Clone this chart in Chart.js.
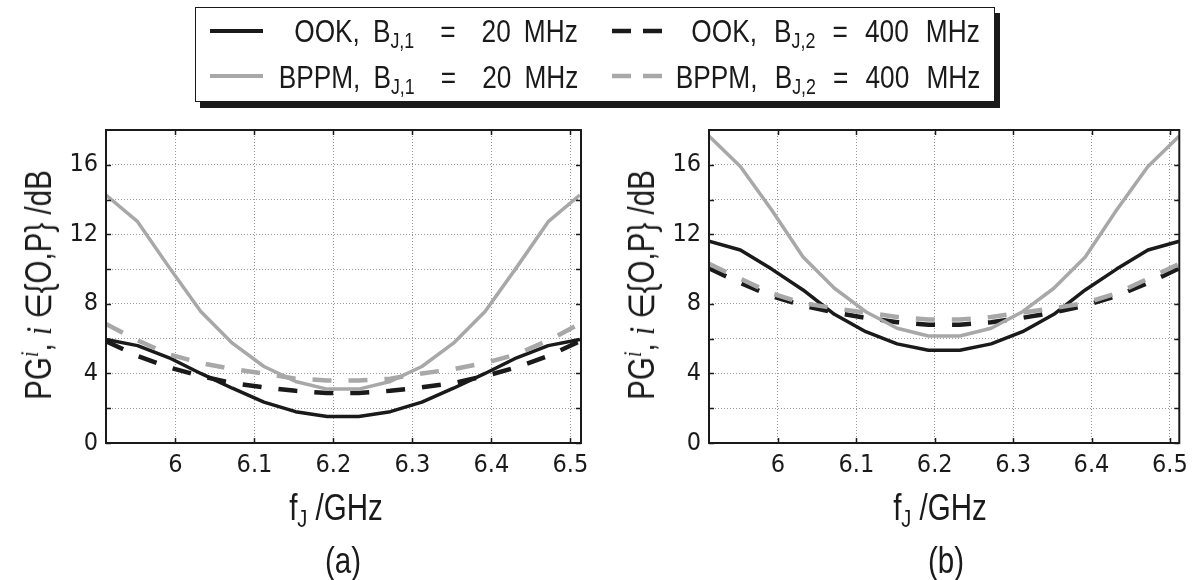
<!DOCTYPE html>
<html>
<head>
<meta charset="utf-8">
<script src="https://cdn.jsdelivr.net/npm/chart.js@4.4.1/dist/chart.umd.min.js"></script>
<style>
html,body{margin:0;padding:0;background:#fff;}
body{width:1195px;height:580px;position:relative;overflow:hidden;
  font-family:'Liberation Sans',Arial,sans-serif;color:#1a1a1a;}
canvas{position:absolute;}
.t{position:absolute;white-space:pre;line-height:1;}
.t sub{font-size:0.68em;vertical-align:-0.27em;line-height:0;}
.t sup{font-size:0.68em;vertical-align:0.55em;line-height:0;}
.mi{font-family:'Liberation Serif','DejaVu Serif',serif;font-style:italic;}
#legbox{position:absolute;left:195px;top:7px;width:800px;height:95px;box-sizing:border-box;
  border:1.5px solid #1a1a1a;box-shadow:5px 6px 0 #1a1a1a;background:#fff;}
.leg{font-size:32px;text-align:right;transform:scaleX(0.82);transform-origin:100% 50%;}
.c1{right:617px;word-spacing:7px;}
.c2{right:215px;word-spacing:12px;}
.r1{top:15px;}
.r2{top:61px;}
.ylab{font-size:36px;transform:translate(-50%,-50%) rotate(-90deg) scaleX(0.82);}
.xlab{font-size:36px;transform:translateX(-50%) scaleX(0.82);}
svg.ls{position:absolute;overflow:visible;}
</style>
</head>
<body>
<canvas id="cA" width="600" height="400" style="left:0;top:100px"></canvas>
<canvas id="cB" width="592" height="400" style="left:603px;top:100px"></canvas>

<div id="legbox"></div>
<svg class="ls" width="1195" height="110" style="left:0;top:0">
  <line x1="210" y1="31" x2="263" y2="31" stroke="#1a1a1a" stroke-width="4"/>
  <line x1="210" y1="76" x2="263" y2="76" stroke="#a8a8a8" stroke-width="4"/>
  <line x1="612" y1="31" x2="662" y2="31" stroke="#1a1a1a" stroke-width="4.5" stroke-dasharray="19,12"/>
  <line x1="612" y1="76" x2="662" y2="76" stroke="#a8a8a8" stroke-width="4.5" stroke-dasharray="19,12"/>
</svg>
<div id="legtext"></div>

<div class="t ylab" style="left:39px;top:285px">PG<sup><span class="mi">i</span></sup>, <span class="mi">i</span> ∈{O,P} /dB</div>
<div class="t ylab" style="left:642px;top:285px">PG<sup><span class="mi">i</span></sup>, <span class="mi">i</span> ∈{O,P} /dB</div>
<div class="t xlab" style="left:336px;top:490px">f<sub>J</sub> /GHz</div>
<div class="t xlab" style="left:940px;top:490px">f<sub>J</sub> /GHz</div>
<div class="t xlab" style="left:343px;top:543px">(a)</div>
<div class="t xlab" style="left:946px;top:543px">(b)</div>

<script>
// ---------- data ----------
const freqGHz = [5.912, 5.952, 5.992, 6.032, 6.072, 6.112, 6.152, 6.192, 6.232, 6.272, 6.312, 6.352, 6.392, 6.432, 6.472, 6.512];

// panel (a)
const ookA_20MHz   = [5.95, 5.60, 4.90, 4.00, 3.15, 2.35, 1.80, 1.52, 1.52, 1.80, 2.35, 3.15, 4.00, 4.90, 5.60, 5.95];
const ookA_400MHz  = [5.85, 5.00, 4.35, 3.85, 3.45, 3.20, 3.00, 2.87, 2.87, 3.00, 3.20, 3.45, 3.85, 4.35, 5.00, 5.85];
const bppmA_20MHz  = [14.26, 12.73, 10.10, 7.56, 5.74, 4.40, 3.54, 3.10, 3.10, 3.54, 4.40, 5.74, 7.56, 10.10, 12.73, 14.26];
const bppmA_400MHz = [6.85, 5.90, 5.10, 4.60, 4.25, 4.00, 3.70, 3.60, 3.60, 3.70, 4.00, 4.25, 4.60, 5.10, 5.90, 6.85];

// panel (b)
const ookB_20MHz   = [11.60, 11.10, 10.00, 8.80, 7.40, 6.40, 5.70, 5.33, 5.33, 5.70, 6.40, 7.40, 8.80, 10.00, 11.10, 11.60];
const ookB_400MHz  = [10.05, 9.20, 8.45, 7.90, 7.50, 7.20, 6.95, 6.80, 6.80, 6.95, 7.20, 7.50, 7.90, 8.45, 9.20, 10.05];
const bppmB_20MHz  = [17.65, 15.90, 13.40, 10.70, 8.90, 7.55, 6.60, 6.15, 6.15, 6.60, 7.55, 8.90, 10.70, 13.40, 15.90, 17.65];
const bppmB_400MHz = [10.30, 9.45, 8.60, 8.05, 7.75, 7.50, 7.25, 7.10, 7.10, 7.25, 7.50, 7.75, 8.05, 8.60, 9.45, 10.30];

const xTickValues = [6.0, 6.1, 6.2, 6.3, 6.4, 6.5];
const xTickLabels = ['6', '6.1', '6.2', '6.3', '6.4', '6.5'];
const yTickValues = [0, 2, 4, 6, 8, 10, 12, 14, 16];
const yTickLabels = ['0', '', '4', '', '8', '', '12', '', '16'];

const legendMod = ['OOK', 'OOK', 'BPPM', 'BPPM'];
const legendSub = ['J,1', 'J,2', 'J,1', 'J,2'];
const legendBW  = ['20 MHz', '400 MHz', '20 MHz', '400 MHz'];

// ---------- legend text ----------
(function(){
  const cls = ['c1 r1', 'c2 r1', 'c1 r2', 'c2 r2'];
  const eq  = ['  =  ', ' = ', '  =  ', ' = '];
  const holder = document.getElementById('legtext');
  legendMod.forEach((m, i) => {
    const d = document.createElement('div');
    d.className = 't leg ' + cls[i];
    d.innerHTML = m + ', B<sub>' + legendSub[i] + '</sub>' + eq[i] + legendBW[i];
    holder.appendChild(d);
  });
})();

// ---------- chart ----------
const FONT = "'DejaVu Sans Condensed','Liberation Sans',sans-serif";
const BLACK = '#1a1a1a', GREY = '#a8a8a8';

const frame = {
  id: 'frame',
  afterDatasetsDraw(chart) {
    const {ctx, chartArea: a, scales: {x, y}} = chart;
    ctx.save();
    ctx.strokeStyle = BLACK;
    ctx.lineWidth = 1.5;
    ctx.beginPath();
    x.ticks.forEach(t => {
      const p = Math.round(x.getPixelForValue(t.value)) + 0.5;
      ctx.moveTo(p, a.bottom); ctx.lineTo(p, a.bottom - 5);
      ctx.moveTo(p, a.top); ctx.lineTo(p, a.top + 5);
    });
    y.ticks.forEach(t => {
      const p = Math.round(y.getPixelForValue(t.value)) + 0.5;
      ctx.moveTo(a.left, p); ctx.lineTo(a.left + 5, p);
      ctx.moveTo(a.right, p); ctx.lineTo(a.right - 5, p);
    });
    ctx.stroke();
    ctx.lineWidth = 2;
    ctx.strokeRect(a.left, a.top, a.right - a.left, a.bottom - a.top);
    ctx.restore();
  }
};

function series(arr) { return freqGHz.map((f, i) => ({x: f, y: arr[i]})); }

function makeChart(id, sets, xMax, padRight) {
  const ds = [
    {data: series(sets[0]), borderColor: BLACK, borderWidth: 3.5, borderDash: [], order: 3},
    {data: series(sets[1]), borderColor: BLACK, borderWidth: 4.5, borderDash: [19, 17], order: 2},
    {data: series(sets[2]), borderColor: GREY, borderWidth: 3.5, borderDash: [], order: 1},
    {data: series(sets[3]), borderColor: GREY, borderWidth: 4.5, borderDash: [19, 17], order: 0}
  ].map(d => Object.assign(d, {pointRadius: 0, tension: 0, fill: false, borderCapStyle: 'butt', borderJoinStyle: 'round'}));

  return new Chart(document.getElementById(id), {
    type: 'line',
    data: {datasets: ds},
    options: {
      responsive: false,
      animation: false,
      events: [],
      layout: {padding: {top: 30, right: padRight, left: 0, bottom: 0}},
      plugins: {legend: {display: false}, tooltip: {enabled: false}, title: {display: false}},
      scales: {
        x: {
          type: 'linear', min: 5.912, max: xMax,
          afterBuildTicks: s => { s.ticks = xTickValues.map(v => ({value: v})); },
          afterFit: s => { s.height = 57; },
          ticks: {autoSkip: false, maxRotation: 0, padding: 7, color: BLACK,
                  font: {family: FONT, size: 25},
                  callback: (v, i) => xTickLabels[i]},
          grid: {color: 'rgba(0,0,0,0.4)', lineWidth: 1, drawTicks: false},
          border: {display: false, dash: [1, 2]}
        },
        y: {
          type: 'linear', min: 0, max: 18,
          afterBuildTicks: s => { s.ticks = yTickValues.map(v => ({value: v})); },
          afterFit: s => { s.width = 106; },
          ticks: {autoSkip: false, padding: 8, color: BLACK,
                  font: {family: FONT, size: 25},
                  callback: (v, i) => yTickLabels[i]},
          grid: {color: 'rgba(0,0,0,0.4)', lineWidth: 1, drawTicks: false},
          border: {display: false, dash: [1, 2]}
        }
      }
    },
    plugins: [frame]
  });
}

makeChart('cA', [ookA_20MHz, ookA_400MHz, bppmA_20MHz, bppmA_400MHz], 6.5135, 19);
makeChart('cB', [ookB_20MHz, ookB_400MHz, bppmB_20MHz, bppmB_400MHz], 6.512, 12);
</script>
</body>
</html>
